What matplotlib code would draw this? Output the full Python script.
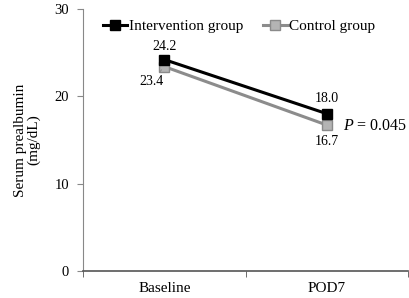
import matplotlib
matplotlib.use("Agg")
import matplotlib.pyplot as plt

categories = ["Baseline", "POD7"]
intervention = [24.2, 18.0]
control = [23.4, 16.7]
p_text = "0.045"

plt.rcParams['font.family'] = ['Liberation Serif', 'DejaVu Serif']
plt.rcParams['mathtext.fontset'] = 'custom'
plt.rcParams['mathtext.it'] = 'Liberation Serif:italic'
plt.rcParams['mathtext.rm'] = 'Liberation Serif'

fig = plt.figure(figsize=(4.09, 2.98), dpi=100)
ax = fig.add_axes([0.203, 0.091, 0.795, 0.879])

x = list(range(len(categories)))
ax.plot(x, intervention, color='black', lw=2.2, marker='s', ms=7.5,
        mfc='black', mec='black', label='Intervention group', zorder=4)
ax.plot(x, control, color='#8c8c8c', lw=2.2, marker='s', ms=7.5,
        mfc='#b4b4b4', mec='#8a8a8a', label='Control group', zorder=3)

ax.set_xlim(-0.5, 1.5)
ax.set_ylim(0, 30)
ax.set_yticks([0, 10, 20, 30])
ax.set_xticks(x)
ax.set_xticklabels(categories, fontsize=11)
ax.set_xticks([-0.5, 0.5, 1.5], minor=True)
ax.tick_params(axis='x', which='major', length=0, pad=8)
ax.tick_params(axis='x', which='minor', length=4, color='#555555')
ax.tick_params(axis='y', labelsize=10.5, length=4, color='#888888', pad=6)
for s in ['top', 'right']:
    ax.spines[s].set_visible(False)
ax.spines['left'].set_color('#888888')
ax.spines['bottom'].set_color('#555555')
ax.spines['bottom'].set_linewidth(1.2)

ax.set_ylabel("Serum prealbumin\n(mg/dL)", fontsize=11, labelpad=10, linespacing=1.0)

ax.annotate(f"{intervention[0]:.1f}", (x[0], intervention[0]), xytext=(0, 5),
            textcoords='offset points', ha='center', va='bottom', fontsize=10)
ax.annotate(f"{control[0]:.1f}", (x[0], control[0]), xytext=(-9, -6),
            textcoords='offset points', ha='center', va='top', fontsize=10,
            arrowprops=dict(arrowstyle='-', color='#888888', lw=0.6, shrinkA=0, shrinkB=3))
ax.annotate(f"{intervention[1]:.1f}", (x[1], intervention[1]), xytext=(0, 6),
            textcoords='offset points', ha='center', va='bottom', fontsize=10)
ax.annotate(f"{control[1]:.1f}", (x[1], control[1]), xytext=(0, -7),
            textcoords='offset points', ha='center', va='top', fontsize=10)

ax.text(1.495, 16.6, r"$P$ = " + p_text, fontsize=11.5, ha='right', va='center')

ax.legend(loc='upper center', bbox_to_anchor=(0.48, 1.0), ncol=2, frameon=False,
          fontsize=11, handlelength=1.6, handletextpad=0.1, columnspacing=1.3,
          borderaxespad=0.3)

fig.savefig("out.png", dpi=100)
